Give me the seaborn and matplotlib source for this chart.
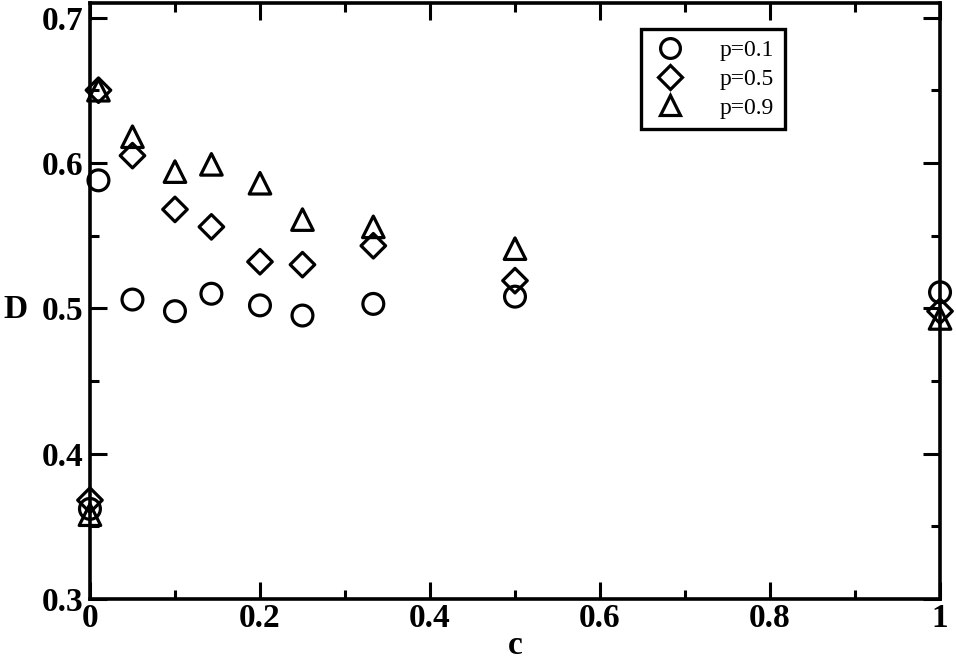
import numpy as np
import pandas as pd
import seaborn as sns
from matplotlib import pyplot as plt
from matplotlib.lines import Line2D
from matplotlib.ticker import MultipleLocator

# data
c_values = [0.0, 0.01, 0.05, 0.1, 1 / 7, 0.2, 0.25, 1 / 3, 0.5, 1.0]
d_p01 = [0.362, 0.588, 0.506, 0.498, 0.510, 0.502, 0.495, 0.503, 0.508, 0.511]
d_p05 = [0.368, 0.650, 0.605, 0.568, 0.556, 0.532, 0.530, 0.543, 0.519, 0.498]
d_p09 = [0.358, 0.650, 0.618, 0.594, 0.599, 0.586, 0.561, 0.556, 0.541, 0.493]
labels = ["p=0.1", "p=0.5", "p=0.9"]
marker_map = {"p=0.1": "o", "p=0.5": "D", "p=0.9": "^"}
size_map = {"p=0.1": 15, "p=0.5": 12.5, "p=0.9": 15.5}

rows = []
for lab, vals in zip(labels, [d_p01, d_p05, d_p09]):
    for c, d in zip(c_values, vals):
        rows.append({"c": c, "D": d, "p": lab})
df = pd.DataFrame(rows)

sns.set_style("ticks")
plt.rcParams["font.family"] = ["Liberation Serif", "DejaVu Serif"]
plt.rcParams["text.color"] = "black"
plt.rcParams["axes.labelcolor"] = "black"
plt.rcParams["xtick.color"] = "black"
plt.rcParams["ytick.color"] = "black"

fig = plt.figure(figsize=(9.56, 6.63), dpi=100)
ax = fig.add_axes([0.0941, 0.0965, 0.8892, 0.899])

for lab in labels:
    sub = df[df["p"] == lab]
    sns.scatterplot(data=sub, x="c", y="D", marker=marker_map[lab], s=size_map[lab] ** 2,
                    facecolor="none", edgecolor="black", linewidth=2.3, legend=False,
                    clip_on=False, zorder=3, ax=ax)

ax.set_xlim(0, 1)
ax.set_ylim(0.3, 0.71)
ax.xaxis.set_minor_locator(MultipleLocator(0.1))
ax.yaxis.set_minor_locator(MultipleLocator(0.05))
ax.set_xticks([0, 0.2, 0.4, 0.6, 0.8, 1.0])
ax.set_xticklabels(["0", "0.2", "0.4", "0.6", "0.8", "1"])
ax.set_yticks([0.3, 0.4, 0.5, 0.6, 0.7])
ax.set_yticklabels(["0.3", "0.4", "0.5", "0.6", "0.7"])

for s in ax.spines.values():
    s.set_visible(True)
    s.set_linewidth(2.6)
    s.set_color("black")
ax.tick_params(which="both", direction="in", top=True, right=True, width=2.2, color="black")
ax.tick_params(which="major", length=12.5)
ax.tick_params(which="minor", length=6.5)
ax.tick_params(axis="y", which="major", pad=5)
ax.tick_params(axis="x", which="major", pad=3)
for t in ax.get_xticklabels() + ax.get_yticklabels():
    t.set_fontsize(24)
    t.set_fontweight("bold")
    t.set_color("black")

ax.set_xlabel("c", fontsize=24, fontweight="bold", labelpad=-3, color="black")
ax.set_ylabel("D", fontsize=24, fontweight="bold", rotation=0, color="black", va="center")
ax.yaxis.set_label_coords(-0.088, 0.485)

handles = [Line2D([], [], linestyle="none", marker=marker_map[lab], markersize=size_map[lab] * 0.95,
                  markerfacecolor="none", markeredgecolor="black", markeredgewidth=2.3)
           for lab in labels]
leg = ax.legend(handles, labels, loc="upper left", bbox_to_anchor=(0.648, 0.956), borderaxespad=0,
                frameon=True, fancybox=False, framealpha=1, edgecolor="black", fontsize=17,
                handlelength=1.6, handletextpad=1.3, labelspacing=0.3, borderpad=0.45)
leg.get_frame().set_linewidth(2.4)
for t in leg.get_texts():
    t.set_color("black")

fig.savefig("out.png", dpi=100)
